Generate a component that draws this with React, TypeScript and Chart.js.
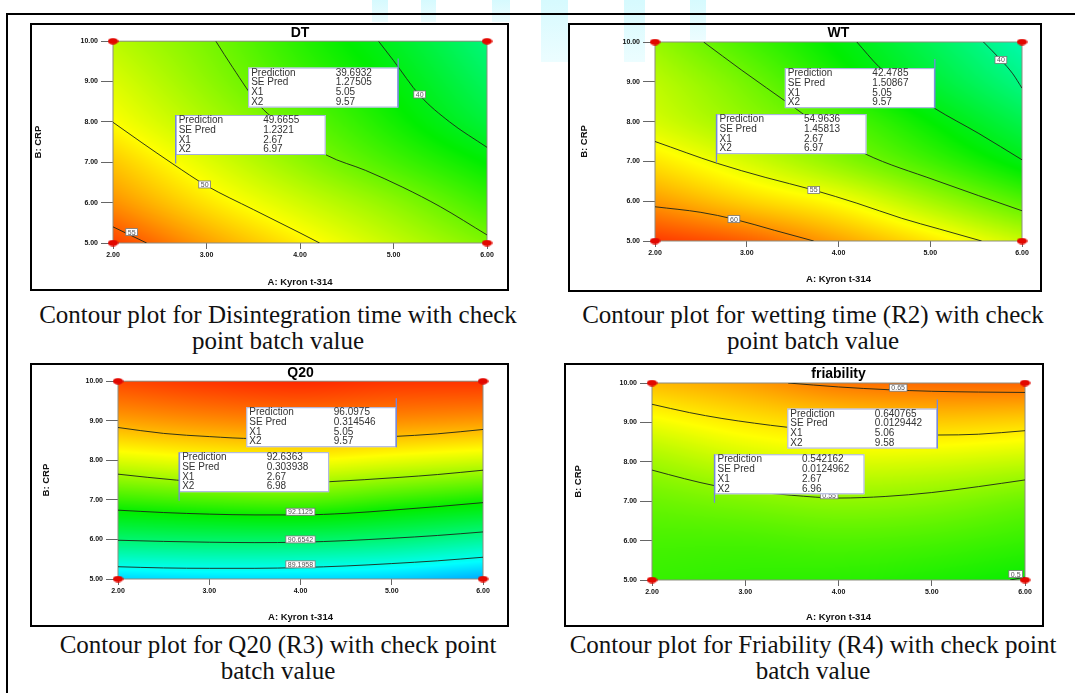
import React, { useEffect, useRef } from 'react';
import { Chart, registerables } from 'chart.js';

Chart.register(...registerables);

// ---------------- shared axis data ----------------
const xTickValues = [2, 3, 4, 5, 6];
const xTickLabels = ['2.00', '3.00', '4.00', '5.00', '6.00'];
const yTickValues = [5, 6, 7, 8, 9, 10];
const yTickLabels = ['5.00', '6.00', '7.00', '8.00', '9.00', '10.00'];
const gridX = [2, 3, 4, 5, 6];
const gridY = [5, 6, 7, 8, 9, 10];
const designX = [2, 2, 6, 6];
const designY = [5, 10, 5, 10];
const xAxisTitle = 'A: Kyron t-314';
const yAxisTitle = 'B: CRP';
const boxRowLabels = ['Prediction', 'SE Pred', 'X1', 'X2'];

// ---------------- DT ----------------
const dtTitle = 'DT';
// rows: B = 5..10, columns: A = 2..6
const dtGrid = [
  [56.5, 53.3, 50.6, 48.0, 45.5],
  [53.8, 50.9, 48.4, 46.0, 43.2],
  [51.9, 49.0, 46.2, 43.5, 40.9],
  [50.0, 47.3, 44.6, 41.7, 38.5],
  [48.8, 46.1, 43.3, 40.6, 37.0],
  [47.6, 45.3, 42.4, 39.5, 35.7],
];
const dtColorStops = [19, 30, 41, 50, 58];
const dtC55 = [[2, 5.4], [2.18, 5.2], [2.36, 5.0]];
const dtC50 = [[2, 7.99], [2.3, 7.5], [2.64, 6.96], [3, 6.42], [3.5, 5.83], [4, 5.25], [4.21, 5.0]];
const dtC45 = [[3.1, 10], [3.28, 9.35], [3.57, 8.4], [3.9, 7.78], [4.29, 7.17], [4.7, 6.8], [5.1, 6.38], [5.5, 5.9], [6, 5.2]];
const dtC40 = [[4.84, 10], [5.0, 9.52], [5.28, 8.66], [5.6, 8.0], [6, 7.37]];
const dtLabelText = ['55', '50', '40'];
const dtLabelX = [2.2, 2.98, 5.28];
const dtLabelY = [5.27, 6.45, 8.68];
const dtPrediction = [39.6932, 49.6655];
const dtSEPred = [1.27505, 1.2321];
const dtX1 = [5.05, 2.67];
const dtX2 = [9.57, 6.97];

// ---------------- WT ----------------
const wtTitle = 'WT';
const wtGrid = [
  [63.5, 62.0, 59.3, 56.5, 53.5],
  [59.6, 57.3, 55.3, 52.2, 49.1],
  [56.5, 54.0, 51.3, 48.4, 45.2],
  [54.0, 51.6, 49.2, 46.0, 42.3],
  [53.0, 50.3, 47.0, 43.5, 39.6],
  [51.6, 48.6, 45.6, 41.8, 37.5],
];
const wtColorStops = [21, 33.5, 46, 55.5, 65];
const wtC60 = [[2, 5.86], [2.5, 5.72], [2.86, 5.55], [3.3, 5.27], [3.73, 5.0]];
const wtC55 = [[2, 7.5], [2.68, 6.95], [3.2, 6.6], [3.73, 6.28], [4.2, 5.95], [4.69, 5.57], [5.1, 5.3], [5.56, 5.0]];
const wtC50 = [[2.53, 10], [2.94, 9.3], [3.49, 8.4], [3.9, 7.72], [4.29, 7.19], [5.05, 6.53], [6, 5.76]];
const wtC45 = [[4.2, 10], [4.44, 9.38], [4.75, 8.8], [5.05, 8.33], [5.53, 7.7], [6, 7.04]];
const wtC40 = [[5.58, 10], [5.77, 9.55], [5.9, 9.2], [6, 8.84]];
const wtLabelText = ['60', '55', '40'];
const wtLabelX = [2.86, 3.73, 5.77];
const wtLabelY = [5.55, 6.28, 9.55];
const wtPrediction = [42.4785, 54.9636];
const wtSEPred = [1.50867, 1.45813];
const wtX1 = [5.05, 2.67];
const wtX2 = [9.57, 6.97];

// ---------------- Q20 ----------------
const q20Title = 'Q20';
const q20Grid = [
  [88.5, 88.6, 88.55, 88.4, 88.0],
  [90.7, 90.8, 90.8, 90.6, 90.2],
  [92.5, 92.7, 92.8, 92.5, 92.2],
  [94.0, 94.2, 94.3, 94.1, 93.9],
  [95.2, 95.4, 95.5, 95.4, 95.3],
  [96.1, 96.3, 96.4, 96.3, 96.3],
];
const q20ColorStops = [86.7, 89.0, 92.0, 94.3, 96.6];
const q20C950 = [[2, 8.83], [2.5, 8.68], [3, 8.6], [3.5, 8.55], [4, 8.55], [4.5, 8.56], [5, 8.6], [5.5, 8.67], [6, 8.78]];
const q20C936 = [[2, 7.65], [2.64, 7.5], [3, 7.45], [3.5, 7.42], [4, 7.43], [4.32, 7.46], [5.09, 7.57], [5.5, 7.64], [6, 7.75]];
const q20C921 = [[2, 6.74], [2.5, 6.68], [3, 6.64], [3.5, 6.62], [4, 6.62], [4.5, 6.66], [5, 6.74], [5.5, 6.83], [6, 6.93]];
const q20C907 = [[2, 5.98], [2.5, 5.95], [3, 5.93], [3.5, 5.92], [4, 5.93], [4.5, 5.97], [5, 6.03], [5.5, 6.1], [6, 6.19]];
const q20C892 = [[2, 5.31], [2.5, 5.28], [3, 5.27], [3.5, 5.27], [4, 5.29], [4.5, 5.33], [5, 5.39], [5.5, 5.46], [6, 5.55]];
const q20LabelText = ['92.1125', '90.6542', '89.1958'];
const q20LabelX = [4.0, 4.0, 4.0];
const q20LabelY = [6.7, 6.0, 5.37];
const q20Prediction = [96.0975, 92.6363];
const q20SEPred = [0.314546, 0.303938];
const q20X1 = [5.05, 2.67];
const q20X2 = [9.57, 6.98];

// ---------------- friability ----------------
const friTitle = 'friability';
const friGrid = [
  [0.515, 0.512, 0.51, 0.505, 0.498],
  [0.522, 0.522, 0.525, 0.522, 0.515],
  [0.535, 0.542, 0.548, 0.545, 0.535],
  [0.556, 0.57, 0.577, 0.575, 0.568],
  [0.585, 0.6, 0.61, 0.614, 0.61],
  [0.622, 0.635, 0.654, 0.66, 0.662],
];
const friColorStops = [0.29, 0.39, 0.495, 0.59, 0.7];
const friC65 = [[3.46, 10], [4, 9.9], [4.53, 9.83], [5, 9.79], [5.5, 9.77], [6, 9.76]];
const friC60 = [[2, 9.46], [2.4, 9.25], [2.75, 9.1], [3.1, 8.98], [3.44, 8.88], [4, 8.76], [4.5, 8.7], [5.07, 8.68], [5.5, 8.7], [6, 8.79]];
const friC55 = [[2, 7.79], [2.35, 7.57], [2.68, 7.39], [3, 7.27], [3.5, 7.15], [4, 7.08], [4.5, 7.12], [5, 7.22], [5.5, 7.37], [6, 7.54]];
const friC50 = [[5.84, 5.0], [6, 5.07]];
const friLabelText = ['0.65', '0.55', '0.5'];
const friLabelX = [4.64, 3.9, 5.9];
const friLabelY = [9.88, 7.15, 5.15];
const friPrediction = [0.640765, 0.542162];
const friSEPred = [0.0129442, 0.0124962];
const friX1 = [5.06, 2.67];
const friX2 = [9.58, 6.96];

// ---------------- captions ----------------
const captions = [
  'Contour plot for Disintegration time with check\npoint batch value',
  'Contour plot for wetting time (R2) with check\npoint batch value',
  'Contour plot for Q20 (R3) with check point\nbatch value',
  'Contour plot for Friability (R4) with check point\nbatch value',
];

// ---------------- styling ----------------
const SANS = '"Liberation Sans", Arial, sans-serif';
const rampColors = [
  [0, 60, 255],
  [0, 255, 255],
  [0, 238, 0],
  [255, 255, 0],
  [255, 20, 0],
];

type PanelDef = {
  title: string;
  grid: number[][];
  colorStops: number[];
  contours: number[][][];
  labelText: string[];
  labelX: number[];
  labelY: number[];
  pred: number[];
  se: number[];
  x1: number[];
  x2: number[];
};

type Frame = {
  left: number; top: number; width: number; height: number;
  yAxisW: number; rightPad: number; chartTop: number; xAxisH: number;
  yTitlePad: number; xTitlePad: number;
};

const panels: PanelDef[] = [
  { title: dtTitle, grid: dtGrid, colorStops: dtColorStops, contours: [dtC55, dtC50, dtC45, dtC40],
    labelText: dtLabelText, labelX: dtLabelX, labelY: dtLabelY, pred: dtPrediction, se: dtSEPred, x1: dtX1, x2: dtX2 },
  { title: wtTitle, grid: wtGrid, colorStops: wtColorStops, contours: [wtC60, wtC55, wtC50, wtC45, wtC40],
    labelText: wtLabelText, labelX: wtLabelX, labelY: wtLabelY, pred: wtPrediction, se: wtSEPred, x1: wtX1, x2: wtX2 },
  { title: q20Title, grid: q20Grid, colorStops: q20ColorStops, contours: [q20C950, q20C936, q20C921, q20C907, q20C892],
    labelText: q20LabelText, labelX: q20LabelX, labelY: q20LabelY, pred: q20Prediction, se: q20SEPred, x1: q20X1, x2: q20X2 },
  { title: friTitle, grid: friGrid, colorStops: friColorStops, contours: [friC65, friC60, friC55, friC50],
    labelText: friLabelText, labelX: friLabelX, labelY: friLabelY, pred: friPrediction, se: friSEPred, x1: friX1, x2: friX2 },
];

const frames: Frame[] = [
  { left: 30, top: 23, width: 479, height: 268, yAxisW: 81, rightPad: 20, chartTop: 15, xAxisH: 46, yTitlePad: 0.3, xTitlePad: 1.3 },
  { left: 568, top: 23, width: 474, height: 269, yAxisW: 85, rightPad: 18, chartTop: 17, xAxisH: 49, yTitlePad: 8.3, xTitlePad: 5.3 },
  { left: 30, top: 363, width: 479, height: 264, yAxisW: 86, rightPad: 24, chartTop: 16, xAxisH: 46, yTitlePad: 8.3, xTitlePad: 2.3 },
  { left: 564, top: 363, width: 480, height: 264, yAxisW: 86, rightPad: 17, chartTop: 18, xAxisH: 45, yTitlePad: 6.3, xTitlePad: 2.3 },
];

const captionBoxes = [
  { left: 8, top: 302 },
  { left: 543, top: 302 },
  { left: 8, top: 632 },
  { left: 543, top: 632 },
];

const watermark = [
  { left: 372, top: 0, width: 16, height: 22 },
  { left: 421, top: 0, width: 15, height: 22 },
  { left: 492, top: 0, width: 18, height: 22 },
  { left: 541, top: 0, width: 27, height: 62 },
  { left: 624, top: 0, width: 21, height: 62 },
  { left: 690, top: 0, width: 16, height: 40 },
];

// ---------------- helpers ----------------
function cr(p0: number, p1: number, p2: number, p3: number, t: number) {
  return 0.5 * (2 * p1 + (-p0 + p2) * t + (2 * p0 - 5 * p1 + 4 * p2 - p3) * t * t + (-p0 + 3 * p1 - 3 * p2 + p3) * t * t * t);
}

function sampleGrid(grid: number[][], x: number, y: number) {
  const nx = gridX.length, ny = gridY.length;
  const fx = (x - gridX[0]) / (gridX[1] - gridX[0]);
  const fy = (y - gridY[0]) / (gridY[1] - gridY[0]);
  const i = Math.max(0, Math.min(nx - 2, Math.floor(fx)));
  const j = Math.max(0, Math.min(ny - 2, Math.floor(fy)));
  const tx = fx - i, ty = fy - j;
  const get = (jj: number, ii: number): number => {
    if (ii < 0) return 2 * get(jj, 0) - get(jj, 1);
    if (ii > nx - 1) return 2 * get(jj, nx - 1) - get(jj, nx - 2);
    if (jj < 0) return 2 * get(0, ii) - get(1, ii);
    if (jj > ny - 1) return 2 * get(ny - 1, ii) - get(ny - 2, ii);
    return grid[jj][ii];
  };
  const rows: number[] = [];
  for (let d = -1; d <= 2; d++) {
    rows.push(cr(get(j + d, i - 1), get(j + d, i), get(j + d, i + 1), get(j + d, i + 2), tx));
  }
  return cr(rows[0], rows[1], rows[2], rows[3], ty);
}

function ramp(z: number, stops: number[]) {
  if (z <= stops[0]) return rampColors[0];
  for (let k = 0; k < stops.length - 1; k++) {
    if (z <= stops[k + 1]) {
      const t = (z - stops[k]) / (stops[k + 1] - stops[k]);
      const a = rampColors[k], b = rampColors[k + 1];
      return [a[0] + (b[0] - a[0]) * t, a[1] + (b[1] - a[1]) * t, a[2] + (b[2] - a[2]) * t];
    }
  }
  return rampColors[rampColors.length - 1];
}

function ContourPanel({ def, frame }: { def: PanelDef; frame: Frame }) {
  const ref = useRef<HTMLCanvasElement>(null);
  const cw = frame.width - 4;
  const ch = frame.height - 4;

  useEffect(() => {
    const canvas = ref.current;
    if (!canvas) return;

    const dot = document.createElement('canvas');
    dot.width = 11;
    dot.height = 7;
    const dctx = dot.getContext('2d')!;
    dctx.fillStyle = '#e20800';
    dctx.beginPath();
    dctx.ellipse(5.5, 3.5, 5.2, 3.3, 0, 0, Math.PI * 2);
    dctx.fill();

    const heatPlugin = {
      id: 'heat',
      beforeDatasetsDraw(chart: any) {
        const { ctx, chartArea: a, scales } = chart;
        const xs = scales.x, ys = scales.y;
        const w = Math.round(a.right - a.left), h = Math.round(a.bottom - a.top);
        const off = document.createElement('canvas');
        off.width = w;
        off.height = h;
        const octx = off.getContext('2d')!;
        const img = octx.createImageData(w, h);
        for (let py = 0; py < h; py++) {
          const yv = ys.getValueForPixel(a.top + ((py + 0.5) * (a.bottom - a.top)) / h);
          for (let px = 0; px < w; px++) {
            const xv = xs.getValueForPixel(a.left + ((px + 0.5) * (a.right - a.left)) / w);
            const c = ramp(sampleGrid(def.grid, xv, yv), def.colorStops);
            const k = (py * w + px) * 4;
            img.data[k] = c[0];
            img.data[k + 1] = c[1];
            img.data[k + 2] = c[2];
            img.data[k + 3] = 255;
          }
        }
        octx.putImageData(img, 0, 0);
        ctx.drawImage(off, a.left, a.top, a.right - a.left, a.bottom - a.top);
        ctx.save();
        ctx.strokeStyle = '#8d8d80';
        ctx.lineWidth = 1;
        ctx.strokeRect(a.left, a.top, a.right - a.left, a.bottom - a.top);
        ctx.restore();
      },
    };

    const overlayPlugin = {
      id: 'overlay',
      afterDatasetsDraw(chart: any) {
        const { ctx, scales } = chart;
        const xs = scales.x, ys = scales.y;
        ctx.save();
        // contour labels
        ctx.font = `7px ${SANS}`;
        ctx.textAlign = 'center';
        ctx.textBaseline = 'middle';
        def.labelText.forEach((t, i) => {
          const px = xs.getPixelForValue(def.labelX[i]);
          const py = ys.getPixelForValue(def.labelY[i]);
          const bw = ctx.measureText(t).width + 4;
          const bh = 7;
          ctx.fillStyle = '#ffffff';
          ctx.fillRect(px - bw / 2, py - bh / 2, bw, bh);
          ctx.strokeStyle = '#777';
          ctx.lineWidth = 0.8;
          ctx.strokeRect(px - bw / 2, py - bh / 2, bw, bh);
          ctx.fillStyle = '#555';
          ctx.fillText(t, px, py + 0.5);
        });
        // prediction boxes
        const BW = 150, BH = 40;
        def.pred.forEach((p, i) => {
          const px = xs.getPixelForValue(def.x1[i]);
          const py = ys.getPixelForValue(def.x2[i]);
          let left: number, top: number;
          if (i === 0) {
            left = px - BW;
            top = py + 9;
          } else {
            left = px;
            top = py - 8.5 - BH;
          }
          ctx.fillStyle = '#ffffff';
          ctx.fillRect(left, top, BW, BH);
          ctx.strokeStyle = '#a4aedb';
          ctx.lineWidth = 1;
          ctx.strokeRect(left + 0.5, top + 0.5, BW - 1, BH - 1);
          ctx.strokeStyle = '#7487e0';
          ctx.lineWidth = 1.3;
          ctx.beginPath();
          ctx.moveTo(px, py);
          ctx.lineTo(px, i === 0 ? top + BH : top);
          ctx.stroke();
          const vals = [p, def.se[i], def.x1[i], def.x2[i]];
          ctx.font = `10px ${SANS}`;
          ctx.fillStyle = '#333';
          ctx.textAlign = 'left';
          ctx.textBaseline = 'middle';
          boxRowLabels.forEach((lab, r) => {
            const ty = top + 5.4 + r * 9.7;
            ctx.fillText(lab, left + 3, ty);
            ctx.fillText(String(vals[r]), left + 87.5, ty);
          });
        });
        ctx.restore();
      },
    };

    const titleBlock = 15.4 + 0.8;
    const chart = new Chart(canvas, {
      type: 'line',
      data: {
        datasets: [
          {
            type: 'scatter',
            data: designX.map((x, i) => ({ x, y: designY[i] })),
            pointStyle: dot as any,
            pointRadius: 5,
            clip: false as any,
            showLine: false,
            order: -1,
          } as any,
          ...def.contours.map((c) => ({
            type: 'line',
            data: c.map(([x, y]) => ({ x, y })),
            borderColor: 'rgba(28,38,26,0.9)',
            borderWidth: 1,
            pointRadius: 0,
            fill: false,
            cubicInterpolationMode: 'monotone',
          })),
        ] as any,
      },
      options: {
        responsive: false,
        animation: false,
        events: [],
        layout: { padding: { left: 0, right: frame.rightPad, top: Math.max(0, frame.chartTop - titleBlock), bottom: 0 } },
        plugins: {
          legend: { display: false },
          tooltip: { enabled: false },
          title: {
            display: true,
            fullSize: false,
            text: def.title,
            color: '#000',
            font: { family: SANS, size: 14, weight: 'bold', lineHeight: 1.1 },
            padding: { top: 0, bottom: 0.8 },
          },
        },
        scales: {
          x: {
            type: 'linear',
            min: xTickValues[0],
            max: xTickValues[xTickValues.length - 1],
            afterBuildTicks: (s: any) => { s.ticks = xTickValues.map((v) => ({ value: v })); },
            ticks: {
              callback: (_v: any, i: number) => xTickLabels[i],
              font: { family: SANS, size: 7, weight: 'bold' },
              color: '#111',
              padding: 2,
              maxRotation: 0,
              autoSkip: false,
            },
            grid: { drawOnChartArea: false, drawTicks: true, tickLength: 6, tickColor: '#666', color: '#666' },
            border: { display: false },
            title: {
              display: true,
              text: xAxisTitle,
              color: '#111',
              font: { family: SANS, size: 9.5, weight: 'bold' },
              padding: { top: 0, bottom: frame.xTitlePad },
            },
            afterFit: (s: any) => { s.height = frame.xAxisH; },
          },
          y: {
            type: 'linear',
            min: yTickValues[0],
            max: yTickValues[yTickValues.length - 1],
            afterBuildTicks: (s: any) => { s.ticks = yTickValues.map((v) => ({ value: v })); },
            ticks: {
              callback: (_v: any, i: number) => yTickLabels[i],
              font: { family: SANS, size: 7, weight: 'bold' },
              color: '#111',
              padding: 3,
              autoSkip: false,
            },
            grid: { drawOnChartArea: false, drawTicks: true, tickLength: 12, tickColor: '#666', color: '#666' },
            border: { display: false },
            title: {
              display: true,
              text: yAxisTitle,
              color: '#111',
              font: { family: SANS, size: 9.5, weight: 'bold' },
              padding: { top: frame.yTitlePad, bottom: 0 },
            },
            afterFit: (s: any) => { s.width = frame.yAxisW; },
          },
        },
      } as any,
      plugins: [heatPlugin, overlayPlugin],
    });
    return () => chart.destroy();
  }, [def, frame]);

  return (
    <div
      style={{
        position: 'absolute',
        left: frame.left,
        top: frame.top,
        width: frame.width,
        height: frame.height,
        border: '2px solid #000',
        boxSizing: 'border-box',
      }}
    >
      <canvas ref={ref} width={cw} height={ch} style={{ display: 'block', width: cw, height: ch }} />
    </div>
  );
}

export default function App() {
  return (
    <div style={{ position: 'absolute', left: 0, top: 0, width: 1075, height: 693, overflow: 'hidden', background: '#fff' }}>
      {watermark.map((w, i) => (
        <div key={`wm${i}`} style={{ position: 'absolute', ...w, background: 'linear-gradient(#d6fafe, #ecfdff)' }} />
      ))}
      <div style={{ position: 'absolute', left: 6, top: 13, width: 1069, height: 2, background: '#000' }} />
      <div style={{ position: 'absolute', left: 6, top: 13, width: 2, height: 680, background: '#000' }} />
      {panels.map((p, i) => (
        <ContourPanel key={p.title} def={p} frame={frames[i]} />
      ))}
      {captions.map((c, i) => (
        <div
          key={`cap${i}`}
          style={{
            position: 'absolute',
            left: captionBoxes[i].left,
            top: captionBoxes[i].top,
            width: 540,
            textAlign: 'center',
            whiteSpace: 'pre',
            fontFamily: '"Liberation Serif", "Times New Roman", serif',
            fontSize: 25,
            lineHeight: '26px',
            color: '#111',
          }}
        >
          {c}
        </div>
      ))}
    </div>
  );
}
